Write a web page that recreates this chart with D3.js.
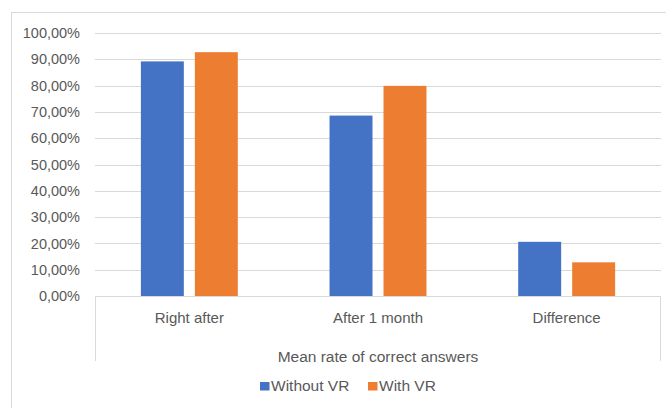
<!DOCTYPE html>
<html>
<head>
<meta charset="utf-8">
<script src="https://cdn.jsdelivr.net/npm/d3@7"></script>
<style>
  body { margin: 0; background: #fff; }
  svg { display: block; font-family: 'Liberation Sans', Arial, sans-serif; }
</style>
</head>
<body>
<svg id="chart" width="666" height="408"></svg>
<script>
const categories = ['Right after', 'After 1 month', 'Difference']
const seriesNames = ['Without VR', 'With VR']
const withoutVR = [89.2, 68.6, 20.6]
const withVR = [92.7, 79.9, 12.8]
const yTicks = [0, 10, 20, 30, 40, 50, 60, 70, 80, 90, 100]
const axisTitle = 'Mean rate of correct answers'

const colors = ['#4472C4', '#ED7D31']
const grid = '#d9d9d9'
const textColor = '#595959'

const svg = d3.select('#chart')

// chart border (cut off at the right and bottom, like the source)
svg.append('rect')
  .attr('x', 11.5).attr('y', 12.5)
  .attr('width', 700).attr('height', 450)
  .attr('fill', 'none').attr('stroke', grid)

const plot = { left: 95, right: 661, top: 33, bottom: 296 }

const y = d3.scaleLinear().domain([0, 100]).range([plot.bottom, plot.top])
const x0 = d3.scaleBand().domain(categories).range([plot.left, plot.right])
const x1 = d3.scaleBand().domain(seriesNames).range([0, x0.bandwidth()])
  .paddingInner(0.204).paddingOuter(0.85)

// gridlines
svg.append('g')
  .selectAll('line')
  .data(yTicks.filter(d => d > 0))
  .join('line')
  .attr('x1', plot.left).attr('x2', plot.right)
  .attr('y1', d => Math.round(y(d)) + 0.5).attr('y2', d => Math.round(y(d)) + 0.5)
  .attr('stroke', grid)

// y axis labels
const yAxis = d3.axisLeft(y)
  .tickValues(yTicks)
  .tickSize(0)
  .tickPadding(15)
  .tickFormat(d => d3.format('.2f')(d).replace('.', ',') + '%')
svg.append('g')
  .attr('transform', `translate(${plot.left},0)`)
  .call(yAxis)
  .call(g => g.select('.domain').remove())
  .selectAll('text')
  .attr('fill', textColor)
  .style('font-size', '14.5px')
  .style('font-family', "'Liberation Sans', Arial, sans-serif")

// bars
const rows = categories.map((c, i) => ({ cat: c, vals: [withoutVR[i], withVR[i]] }))
svg.append('g')
  .selectAll('g')
  .data(rows)
  .join('g')
  .attr('transform', d => `translate(${x0(d.cat)},0)`)
  .selectAll('rect')
  .data(d => d.vals.map((v, j) => ({ name: seriesNames[j], v, j })))
  .join('rect')
  .attr('x', d => x1(d.name))
  .attr('y', d => y(d.v))
  .attr('width', x1.bandwidth())
  .attr('height', d => plot.bottom - y(d.v))
  .attr('fill', d => colors[d.j])

// category axis box
const boxBottom = 361
const box = svg.append('g').attr('stroke', grid).attr('fill', 'none')
box.append('line')
  .attr('x1', plot.left).attr('x2', plot.right)
  .attr('y1', plot.bottom + 0.5).attr('y2', plot.bottom + 0.5)
box.append('line')
  .attr('x1', plot.left + 0.5).attr('x2', plot.left + 0.5)
  .attr('y1', plot.bottom).attr('y2', boxBottom)
box.append('line')
  .attr('x1', plot.right - 0.5).attr('x2', plot.right - 0.5)
  .attr('y1', plot.bottom).attr('y2', boxBottom)

// category labels
svg.append('g')
  .selectAll('text')
  .data(categories)
  .join('text')
  .attr('x', d => x0(d) + x0.bandwidth() / 2)
  .attr('y', 322.5)
  .attr('text-anchor', 'middle')
  .attr('fill', textColor)
  .style('font-size', '15px')
  .text(d => d)

// axis title
svg.append('text')
  .attr('x', (plot.left + plot.right) / 2)
  .attr('y', 361.5)
  .attr('text-anchor', 'middle')
  .attr('fill', textColor)
  .style('font-size', '15.5px')
  .text(axisTitle)

// legend
const legendX = [260, 368]
const legend = svg.append('g')
  .selectAll('g')
  .data(seriesNames)
  .join('g')
  .attr('transform', (d, i) => `translate(${legendX[i]},382)`)
legend.append('rect')
  .attr('width', 9.5).attr('height', 8.5)
  .attr('fill', (d, i) => colors[i])
legend.append('text')
  .attr('x', 11)
  .attr('y', 8.5)
  .attr('fill', textColor)
  .style('font-size', '15.5px')
  .text(d => d)
</script>
</body>
</html>
